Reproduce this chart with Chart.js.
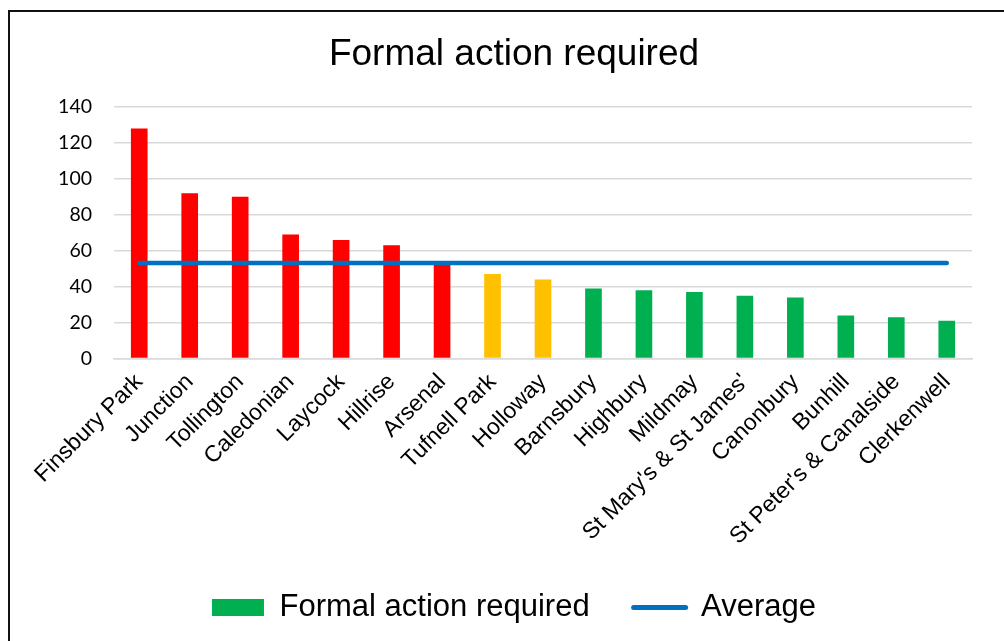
<!DOCTYPE html>
<html>
<head>
<meta charset="utf-8">
<script src="https://cdn.jsdelivr.net/npm/chart.js@4/dist/chart.umd.min.js"></script>
<style>
    body { margin: 0; background: #fff; }
    #frame { position: absolute; left: 8px; top: 10px; width: 1100px; height: 700px; border: 2px solid #111; }
    #wrap { position: absolute; left: 0; top: 0; width: 1004px; height: 641px; }
</style>
</head>
<body>
<div id="frame"></div>
<div id="wrap"><canvas id="fa-chart"></canvas></div>
<script>
const wards = ["Finsbury Park", "Junction", "Tollington", "Caledonian", "Laycock", "Hillrise", "Arsenal",
    "Tufnell Park", "Holloway", "Barnsbury", "Highbury", "Mildmay", "St Mary's & St James'",
    "Canonbury", "Bunhill", "St Peter's & Canalside", "Clerkenwell"];
const formalAction = [128, 92, 90, 69, 66, 63, 54, 47, 44, 39, 38, 37, 35, 34, 24, 23, 21];
const averageLine = [53.2, 53.2, 53.2, 53.2, 53.2, 53.2, 53.2, 53.2, 53.2, 53.2, 53.2, 53.2, 53.2, 53.2, 53.2, 53.2, 53.2];
const yTicks = [0, 20, 40, 60, 80, 100, 120, 140];

const RED = "#FF0000", AMBER = "#FFC000", GREEN = "#00B050";
const barColors = [RED, RED, RED, RED, RED, RED, RED, AMBER, AMBER,
    GREEN, GREEN, GREEN, GREEN, GREEN, GREEN, GREEN, GREEN];

const fa_ctx = document.getElementById("fa-chart").getContext("2d");

new Chart(fa_ctx, {
    data: {
        labels: wards,
        datasets: [
            {
                type: "bar",
                label: "Formal action required",
                data: formalAction,
                backgroundColor: barColors,
                barPercentage: 0.33,
                categoryPercentage: 1,
                order: 1,
            },
            {
                type: "line",
                label: "Average",
                data: averageLine,
                borderColor: "#0070C0",
                backgroundColor: "#0070C0",
                borderWidth: 4.5,
                borderCapStyle: "round",
                pointRadius: 0,
                order: 0,
            },
        ],
    },
    options: {
        responsive: true,
        maintainAspectRatio: false,
        animation: false,
        layout: { padding: { top: 10, left: 56, right: 32, bottom: 8 } },
        plugins: {
            tooltip: { enabled: false },
            title: {
                display: true,
                text: "Formal action required",
                color: "#000",
                font: { family: "'Liberation Sans', Arial, sans-serif", size: 37, weight: "normal" },
                padding: { top: 23, bottom: 29.6 },
            },
            legend: {
                position: "bottom",
                labels: {
                    color: "#000",
                    font: { family: "'Liberation Sans', Arial, sans-serif", size: 31 },
                    padding: 44,
                    usePointStyle: true,
                    pointStyleWidth: 52,
                    boxHeight: 17,
                    sort: (a, b) => a.datasetIndex - b.datasetIndex,
                    generateLabels: function (chart) {
                        const items = Chart.defaults.plugins.legend.labels.generateLabels(chart);
                        items.forEach((item) => {
                            if (item.datasetIndex === 0) {
                                item.fillStyle = GREEN;
                                item.strokeStyle = GREEN;
                                item.lineWidth = 0;
                                item.pointStyle = "rect";
                            } else {
                                item.pointStyle = "line";
                                item.lineWidth = 5;
                                item.lineCap = "round";
                            }
                        });
                        return items;
                    },
                },
            },
        },
        scales: {
            x: {
                grid: { display: false, drawTicks: false },
                border: { display: true, color: "#d9d9d9", width: 1.5 },
                ticks: {
                    color: "#000",
                    font: { family: "'Liberation Sans', Arial, sans-serif", size: 23 },
                    minRotation: 45,
                    maxRotation: 45,
                    autoSkip: false,
                    padding: 10,
                },
                afterFit: (scale) => { scale.height = 189.5; },
            },
            y: {
                min: 0,
                max: 140,
                afterBuildTicks: (scale) => { scale.ticks = yTicks.map((v) => ({ value: v })); },
                grid: { color: "#d9d9d9", lineWidth: 1.5, drawTicks: false },
                border: { display: false },
                ticks: {
                    color: "#000",
                    font: { family: "Lato, sans-serif", size: 19.5 },
                    padding: 22,
                },
                afterFit: (scale) => { scale.width = 58; },
            },
        },
    },
});
</script>
</body>
</html>
